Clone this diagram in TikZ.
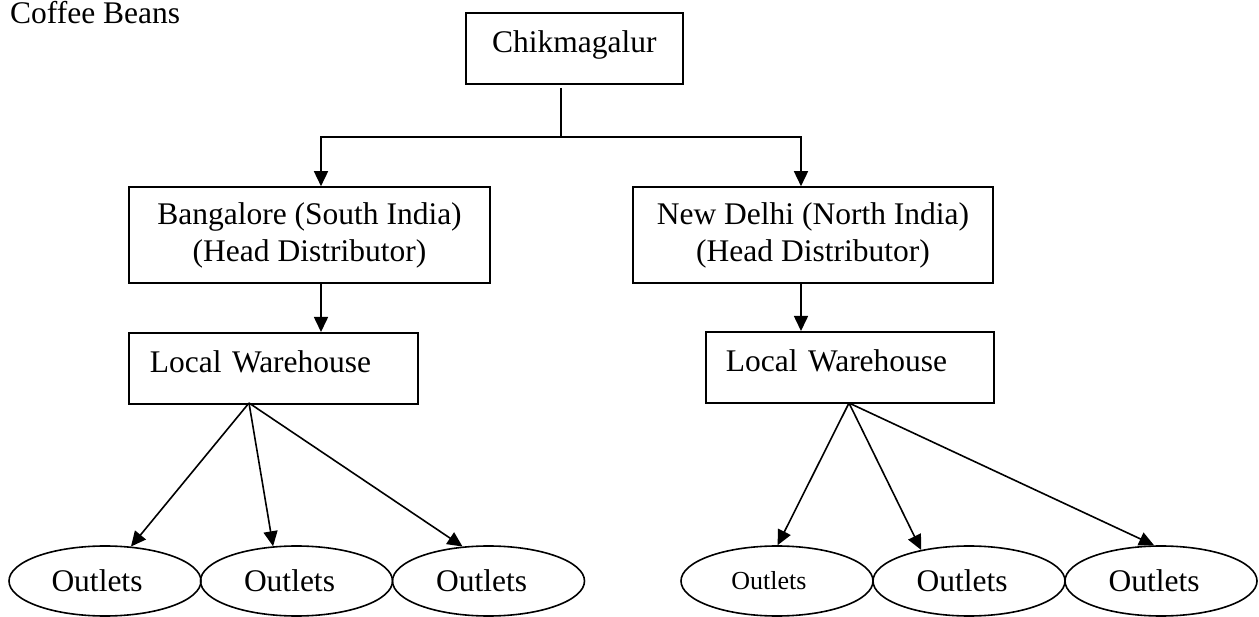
\documentclass[tikz,border=0pt]{standalone}
\usepackage{fontspec}
\setmainfont{Liberation Serif}
\usetikzlibrary{arrows.meta,shapes.geometric}
\tikzset{
  txt/.style={font=\fontsize{31.5pt}{37pt}\selectfont},
  box/.style={draw, line width=1.6pt, inner sep=0pt, txt},
  outlet/.style={draw, ellipse, line width=1.6pt, inner sep=0pt, minimum width=192pt, minimum height=70pt, txt},
  conn/.style={line width=1.6pt},
  arr/.style={line width=1.6pt, -{Triangle[length=15pt,width=14pt]}}
}
\begin{document}
\begin{tikzpicture}[x=1pt,y=-1pt]
\useasboundingbox (0,0) rectangle (1259,617);

\node[txt, anchor=base west, inner sep=0pt] (title) at (10,24) {Coffee Beans};

\node[box, anchor=north west, minimum width=217pt, text height=40pt, text depth=31pt] (chik) at (465,12) {Chikmagalur};

\node[box, align=center, minimum width=361pt, minimum height=96pt] (bang) at (309.5,235) {Bangalore (South India)\\(Head Distributor)};
\node[box, align=center, minimum width=360pt, minimum height=96pt] (nd) at (813,235) {New Delhi (North India)\\(Head Distributor)};

\node[box, anchor=north west, inner xsep=21pt, text width=247pt, align=left, text height=40pt, text depth=31pt] (whl) at (128,332) {Local Warehouse};
\node[box, anchor=north west, inner xsep=20pt, text width=248pt, align=left, text height=40pt, text depth=31pt] (whr) at (705,331) {Local Warehouse};

\node[outlet] (o1) at (105,581) {Outlets\hspace*{16pt}};
\node[outlet] (o2) at (296.5,581) {Outlets\hspace*{14pt}};
\node[outlet] (o3) at (488.5,581) {Outlets\hspace*{14pt}};
\node[outlet, font=\fontsize{26pt}{30pt}\selectfont] (o4) at (777,581) {Outlets\hspace*{16pt}};
\node[outlet] (o5) at (969,581) {Outlets\hspace*{14pt}};
\node[outlet] (o6) at (1161,581) {Outlets\hspace*{14pt}};

\coordinate (stemtop) at (561,88);
\coordinate (junc) at (561,137);
\coordinate (xl) at (321,0);
\coordinate (xr) at (801,0);
\coordinate (fl) at (249,403);
\coordinate (fr) at (849,403);

\draw[conn] (stemtop) -- (junc);
\draw[arr] (junc) -| (xl |- bang.north);
\draw[arr] (junc) -| (xr |- nd.north);
\draw[arr] (xl |- bang.south) -- (xl |- whl.north);
\draw[arr] (xr |- nd.south) -- (xr |- whr.north);

\draw[arr] (fl) -- (o1.53.5);
\draw[arr] (fl) -- (o2.124.7);
\draw[arr] (fl) -- (o3.127.1);
\draw[arr] (fr) -- (o4.89);
\draw[arr] (fr) -- (o5.147.7);
\draw[arr] (fr) -- (o6.101.3);
\end{tikzpicture}
\end{document}
